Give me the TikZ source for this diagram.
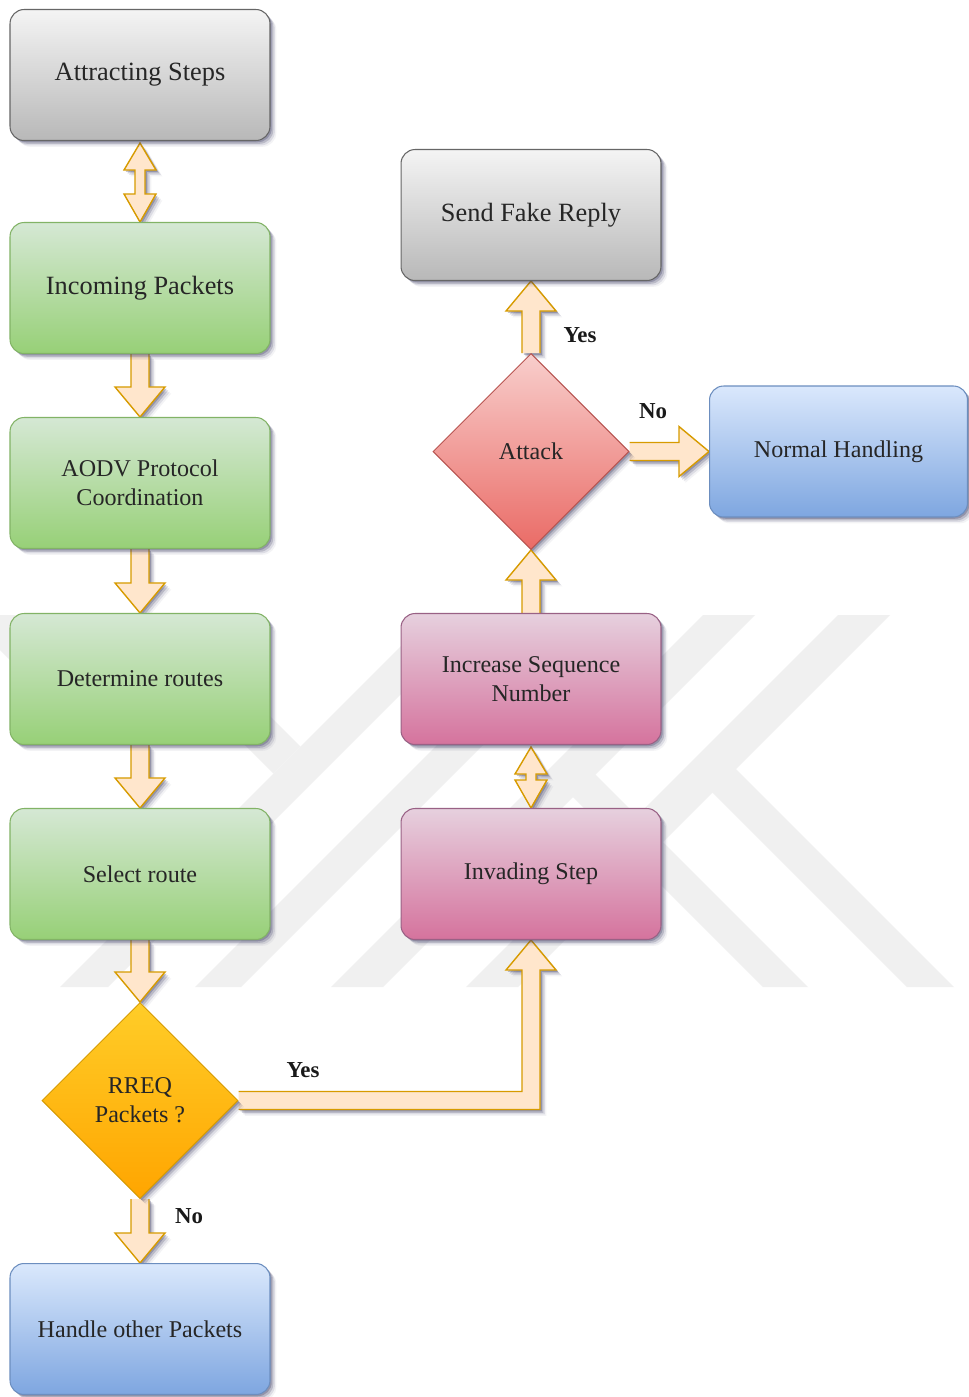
\documentclass[tikz,border=0pt]{standalone}
\usepackage{fontspec}
\setmainfont{Liberation Serif}
\usetikzlibrary{shapes.geometric,calc,shadows}

\definecolor{grayT}{HTML}{F4F4F4}\definecolor{grayB}{HTML}{B8B8B8}\definecolor{grayD}{HTML}{666666}
\definecolor{greenT}{HTML}{D5E8D4}\definecolor{greenB}{HTML}{97D077}\definecolor{greenD}{HTML}{82B366}
\definecolor{blueT}{HTML}{DAE8FC}\definecolor{blueB}{HTML}{7EA6E0}\definecolor{blueD}{HTML}{6C8EBF}
\definecolor{orangeT}{HTML}{FFCD28}\definecolor{orangeB}{HTML}{FFA500}\definecolor{orangeD}{HTML}{D79B00}
\definecolor{redT}{HTML}{F8CECC}\definecolor{redB}{HTML}{EA6B66}\definecolor{redD}{HTML}{B85450}
\definecolor{pinkT}{HTML}{E6D0DE}\definecolor{pinkB}{HTML}{D5739D}\definecolor{pinkD}{HTML}{996185}
\definecolor{arrowF}{HTML}{FFE6CC}\definecolor{arrowD}{HTML}{D79B00}
\definecolor{markC}{HTML}{F0F0F0}
\definecolor{shadowC}{HTML}{3C3C64}

\pgfdeclarelayer{under}
\pgfsetlayers{under,main}

\tikzset{
  % soft drop shadow built from a few offset translucent copies
  soft/.style={
    general shadow={shadow xshift=1.0pt, shadow yshift=-1.0pt, fill=shadowC, opacity=0.30},
    general shadow={shadow xshift=1.9pt, shadow yshift=-1.9pt, fill=shadowC, opacity=0.22},
    general shadow={shadow xshift=2.8pt, shadow yshift=-2.8pt, fill=shadowC, opacity=0.12},
    general shadow={shadow xshift=3.6pt, shadow yshift=-3.6pt, fill=shadowC, opacity=0.06}},
  box/.style={rectangle, rounded corners=8pt, minimum width=5.2cm, minimum height=2.62cm,
    align=center, inner sep=2pt, text=black!85, line width=0.6pt, soft,
    font=\fontsize{13.7}{16.5}\selectfont},
  bigtext/.style={font=\fontsize{15}{18}\selectfont},
  graybox/.style={box, top color=grayT, bottom color=grayB, draw=grayD},
  greenbox/.style={box, top color=greenT, bottom color=greenB, draw=greenD},
  bluebox/.style={box, top color=blueT, bottom color=blueB, draw=blueD},
  pinkbox/.style={box, top color=pinkT, bottom color=pinkB, draw=pinkD},
  decision/.style={diamond, aspect=1, minimum width=3.92cm, minimum height=3.92cm,
    inner sep=0pt, align=center, text=black!85, line width=0.6pt, soft,
    font=\fontsize{13.7}{16.5}\selectfont},
  orangedec/.style={decision, top color=orangeT, bottom color=orangeB, draw=orangeD},
  reddec/.style={decision, top color=redT, bottom color=redB, draw=redD},
  blk/.style={fill=arrowF, draw=arrowD, line width=0.8pt, line join=miter, soft},
  lbl/.style={font=\bfseries\fontsize{13}{15}\selectfont, text=black!90},
  markband/.style={fill=markC, draw=none}
}

% block arrow pointing down from the bottom of #1 to the top of #2
\newcommand\arrowdown[2]{%
  \path[blk] ($(#1.south)+(-9,0)$) -- ($(#2.north)+(-9,-30)$) -- ($(#2.north)+(-25,-30)$)
    -- (#2.north) -- ($(#2.north)+(25,-30)$) -- ($(#2.north)+(9,-30)$) -- ($(#1.south)+(9,0)$);}
% block arrow pointing up from the top of #1 to the bottom of #2
\newcommand\arrowup[2]{%
  \path[blk] ($(#1.north)+(-9,0)$) -- ($(#2.south)+(-9,30)$) -- ($(#2.south)+(-25,30)$)
    -- (#2.south) -- ($(#2.south)+(25,30)$) -- ($(#2.south)+(9,30)$) -- ($(#1.north)+(9,0)$);}
% block arrow pointing right from #1 to #2
\newcommand\arrowright[2]{%
  \path[blk] ($(#1.east)+(0,-9)$) -- ($(#2.west)+(-30,-9)$) -- ($(#2.west)+(-30,-25)$)
    -- (#2.west) -- ($(#2.west)+(-30,25)$) -- ($(#2.west)+(-30,9)$) -- ($(#1.east)+(0,9)$);}
% thin two-headed block arrow between the bottom of #1 and the top of #2
\newcommand\arrowboth[2]{%
  \path[blk] ($(#1.south)+(0,2)$) -- ($(#1.south)+(16,29)$) -- ($(#1.south)+(5,29)$)
    -- ($(#2.north)+(5,-28)$) -- ($(#2.north)+(16,-28)$) -- (#2.north)
    -- ($(#2.north)+(-16,-28)$) -- ($(#2.north)+(-5,-28)$) -- ($(#1.south)+(-5,29)$)
    -- ($(#1.south)+(-16,29)$) -- cycle;}

\begin{document}
\begin{tikzpicture}[x=0.02cm, y=-0.02cm]
\useasboundingbox (0,0) rectangle (969,1397);

\begin{pgfonlayer}{under}
  \fill[white] (0,0) rectangle (969,1397);
  % faint striped emblem in the background
  \fill[markband] (0,615) -- (18,615) -- (140,737) -- (87,737) -- (0,650) -- cycle;
  \fill[markband] (115,615) -- (169,615) -- (300.5,746.5) -- (273.5,773.5) -- cycle;
  \fill[markband] (432,615) -- (480,615) -- (108,987) -- (60,987) -- cycle;
  \fill[markband] (567,615) -- (613,615) -- (241,987) -- (195,987) -- cycle;
  \fill[markband] (703,615) -- (755,615) -- (383,987) -- (331,987) -- cycle;
  \fill[markband] (838,615) -- (890,615) -- (518,987) -- (466,987) -- cycle;
  \fill[markband] (723.5,756.5) -- (954,987) -- (907,987) -- (700,780) -- cycle;
  \fill[markband] (582.5,761.5) -- (808,987) -- (763,987) -- (560,784) -- cycle;
\end{pgfonlayer}

% left column
\node[graybox, bigtext] (att) at (140,75) {Attracting Steps};
\node[greenbox, bigtext] (inc) at (140,288) {Incoming Packets};
\node[greenbox] (aodv) at (140,483) {AODV Protocol\\Coordination};
\node[greenbox] (det) at (140,679) {Determine routes};
\node[greenbox] (sel) at (140,874) {Select route};
\node[orangedec] (rreq) at (140,1100.5) {RREQ\\Packets ?};
\node[bluebox] (hop) at (140,1329) {Handle other Packets};

% right column
\node[graybox, bigtext] (fake) at (531,215) {Send Fake Reply};
\node[reddec] (attack) at (531,451.5) {Attack};
\node[bluebox, minimum width=5.16cm] (normal) at (838.5,451.5) {Normal Handling};
\node[pinkbox] (incseq) at (531,679) {Increase Sequence\\Number};
\node[pinkbox] (inv) at (531,874) {Invading Step};

% connectors, kept beneath the boxes
\begin{pgfonlayer}{under}
  \arrowboth{att}{inc}
  \arrowdown{inc}{aodv}
  \arrowdown{aodv}{det}
  \arrowdown{det}{sel}
  \arrowdown{sel}{rreq}
  \arrowdown{rreq}{hop}
  \arrowboth{incseq}{inv}
  \arrowup{incseq}{attack}
  \arrowup{attack}{fake}
  \arrowright{attack}{normal}
  \coordinate (elbow) at (inv.south |- rreq.east);
  \path[blk] ($(rreq.east)+(0,-9)$) -- ($(elbow)+(-9,-9)$) -- ($(inv.south)+(-9,30)$)
    -- ($(inv.south)+(-25,30)$) -- (inv.south) -- ($(inv.south)+(25,30)$)
    -- ($(inv.south)+(9,30)$) -- ($(elbow)+(9,9)$) -- ($(rreq.east)+(0,9)$);
\end{pgfonlayer}

% branch labels
\node[lbl] (yes1) at (580,335) {Yes};
\node[lbl] (no1) at (653,411) {No};
\node[lbl] (yes2) at (303,1070) {Yes};
\node[lbl] (no2) at (189,1216) {No};
\end{tikzpicture}
\end{document}
